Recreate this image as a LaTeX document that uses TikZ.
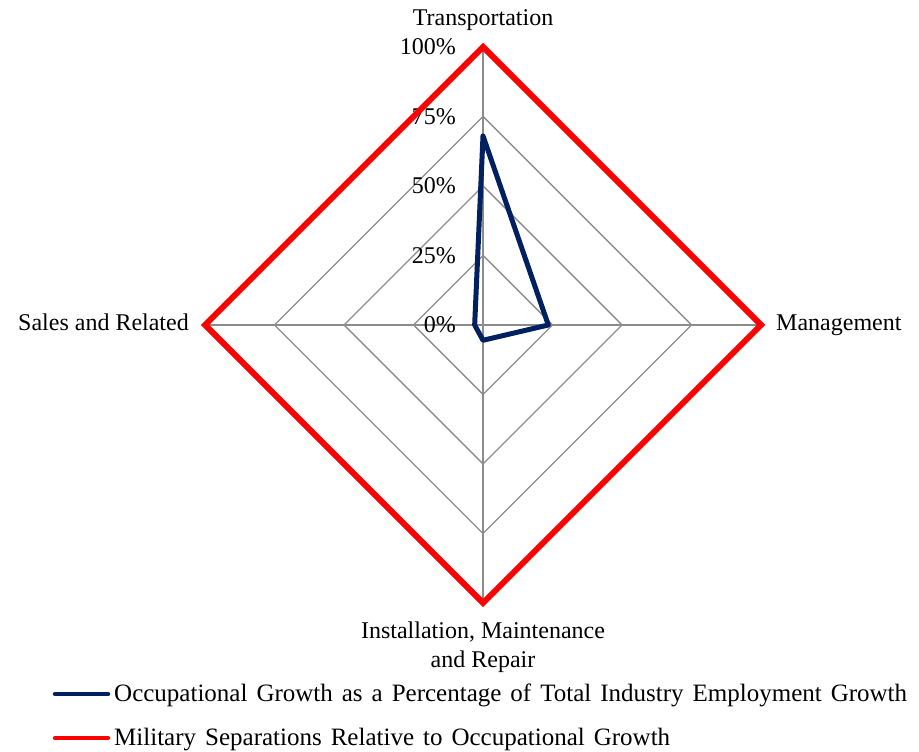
\documentclass[tikz,border=0pt]{standalone}
\usepackage{fontspec}
\setmainfont{Liberation Serif}
\usepackage{xcolor}
\usetikzlibrary{calc}
\definecolor{navyline}{HTML}{002060}
\definecolor{gridgray}{HTML}{8C8C8C}
\newcommand{\legfont}{\fontsize{25}{30}\selectfont\spaceskip=9pt plus 2pt minus 1pt\relax}
\tikzset{
  every node/.style = {font = \fontsize{24}{29}\selectfont}
}
\tikzset{
  gridline/.style = {draw=gridgray, line width=1.4pt},
  bluedata/.style = {draw=navyline, line width=5pt, line join=round},
  reddata/.style  = {draw=red, line width=6pt, line join=miter},
  legline/.style  = {line width=4.5pt, line cap=round},
  legtext/.style  = {anchor=base west, inner sep=0, font=\legfont}
}

\begin{document}
\begin{tikzpicture}[x=1pt,y=1pt]
\useasboundingbox (0,0) rectangle (919,752);
\def\r{278}

\coordinate (O) at (483,427);
\coordinate (T) at ($(O)+(0,\r)$);
\coordinate (M) at ($(O)+(\r,0)$);
\coordinate (I) at ($(O)+(0,-\r)$);
\coordinate (S) at ($(O)+(-\r,0)$);

% Location of points
%      T
%  S   O   M
%      I

% The grid
\draw[gridline] (O) -- (T);
\draw[gridline] (O) -- (M);
\draw[gridline] (O) -- (I);
\draw[gridline] (O) -- (S);
\foreach \f in {0.25,0.5,0.75,1}
  \draw[gridline] ($(O)!\f!(T)$) -- ($(O)!\f!(M)$) -- ($(O)!\f!(I)$) -- ($(O)!\f!(S)$) -- cycle;

% Percent labels
\foreach \f/\p in {0/0,0.25/25,0.5/50,0.75/75,1/100}
  \node[anchor=east, inner sep=0] (pct\p) at ($(O)!\f!(T)+(-27,0)$) {\p\%};

% The data
\coordinate (bT) at ($(O)!0.68!(T)$);
\coordinate (bM) at ($(O)!0.235!(M)$);
\coordinate (bI) at ($(O)!0.055!(I)$);
\coordinate (bS) at ($(O)!0.03!(S)$);
\draw[reddata] (T) -- (M) -- (I) -- (S) -- cycle;
\draw[bluedata] (bT) -- (bM) -- (bI) -- (bS) -- cycle;

% Axis labels
\node[anchor=base, inner sep=0] (trans) at ($(T)+(0,21)$) {Transportation};
\node[anchor=base west, inner sep=0] (manag) at ($(M)+(15,-6)$) {Management};
\node[anchor=base east, inner sep=0] (sales) at ($(S)+(-16,-6)$) {Sales and Related};
\node[anchor=base, inner sep=0, align=center] (inst) at ($(I)+(0,-65)$) {Installation, Maintenance\\and Repair};

% Legend
\coordinate (bL1) at (55,58);
\coordinate (bL2) at (108,58);
\coordinate (rL1) at (55,14);
\coordinate (rL2) at (108,14);
\draw[legline, navyline] (bL1) -- (bL2);
\draw[legline, red] (rL1) -- (rL2);
\node[legtext] (legb) at (114,50) {Occupational Growth as a Percentage of Total Industry Employment Growth};
\node[legtext] (legr) at (114,6) {Military Separations Relative to Occupational Growth};
\end{tikzpicture}
\end{document}
